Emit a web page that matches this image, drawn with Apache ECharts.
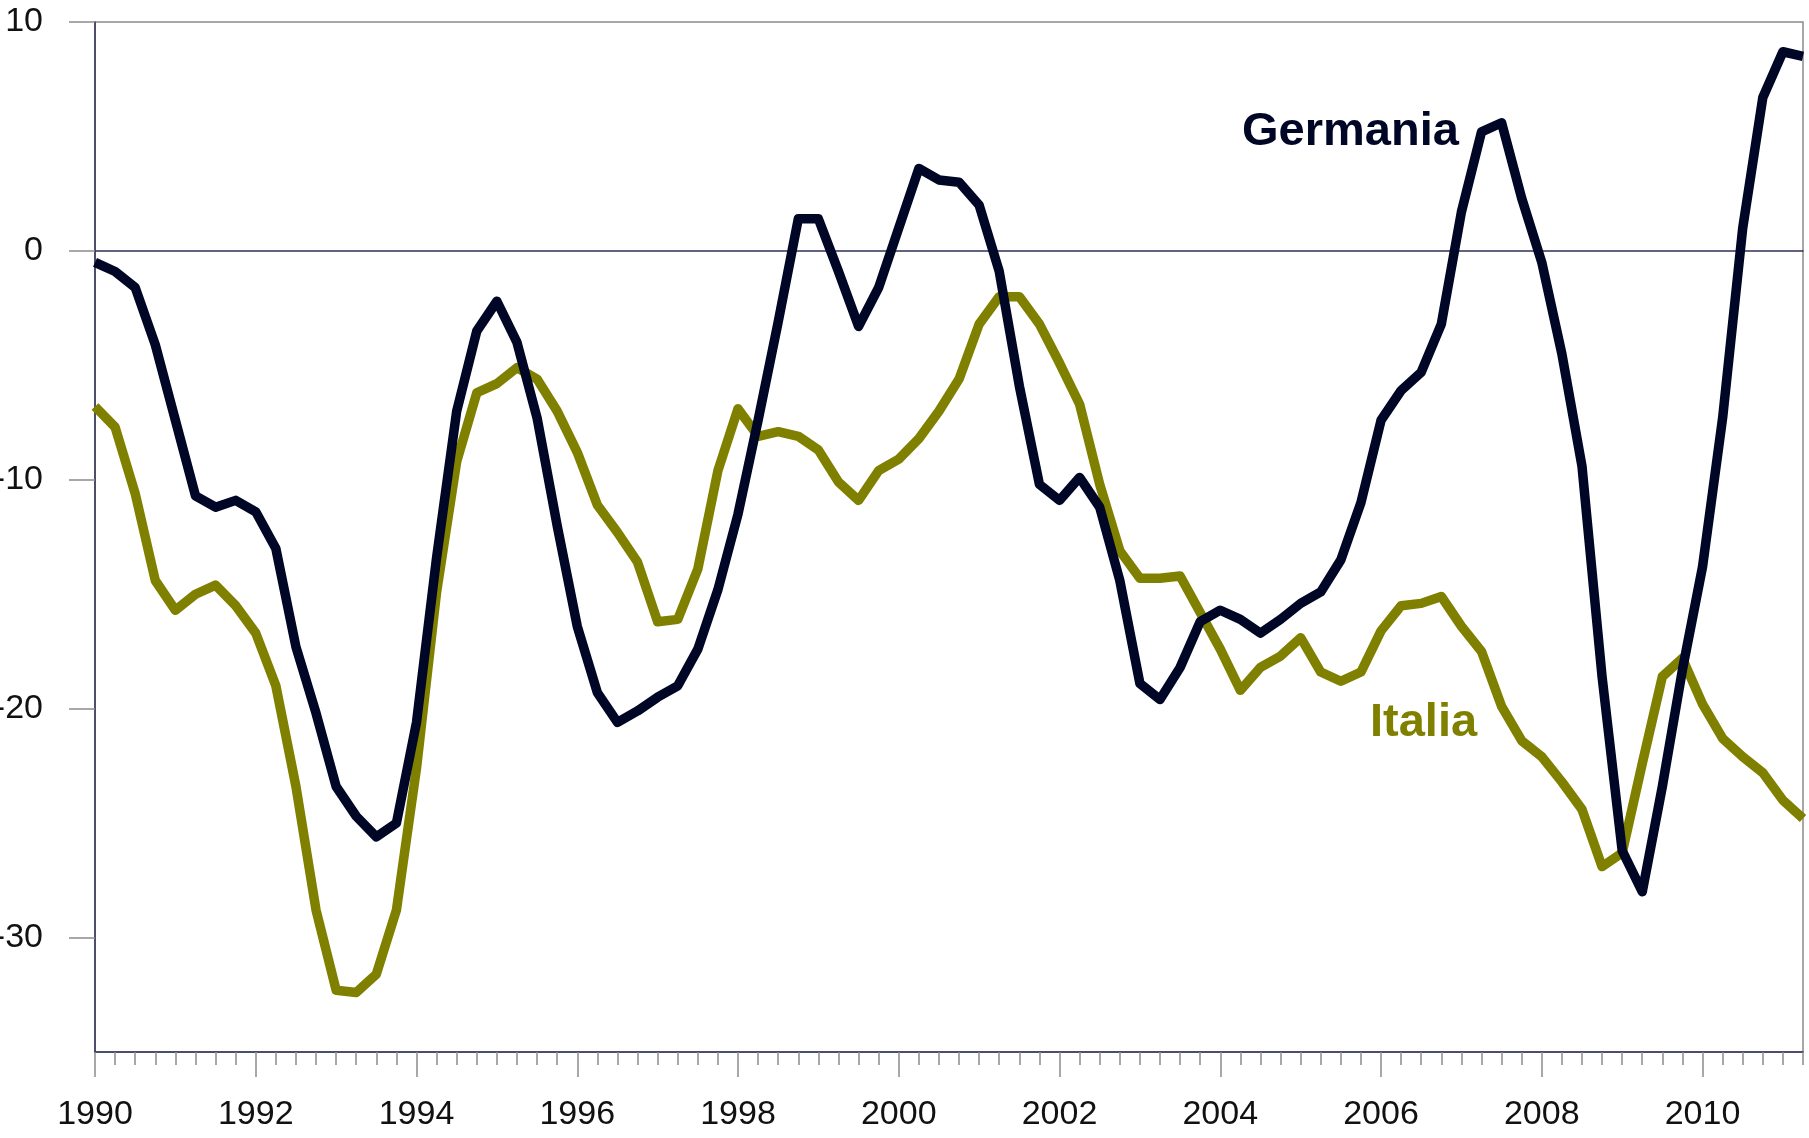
<!DOCTYPE html>
<html>
<head>
<meta charset="utf-8">
<title>Germania / Italia</title>
<script src="https://cdn.jsdelivr.net/npm/echarts@6/dist/echarts.min.js"></script>
<style>
  html, body { margin: 0; padding: 0; background: #fff; }
  #main { width: 1809px; height: 1138px; }
</style>
</head>
<body>
<div id="main"></div>
<script>
// quarterly series, 1990 Q1 - 2011 Q2
const years = [1990, 1991, 1992, 1993, 1994, 1995, 1996, 1997, 1998, 1999, 2000,
               2001, 2002, 2003, 2004, 2005, 2006, 2007, 2008, 2009, 2010, 2011];
const quarters = [];
years.forEach(y => { for (let q = 1; q <= 4; q++) quarters.push(y + ' T' + q); });
quarters.length = 86;

const germania = [
  -0.5, -0.9, -1.6, -4.1, -7.4, -10.7, -11.2, -10.9,
  -11.4, -13.0, -17.3, -20.2, -23.4, -24.7, -25.6, -25.0,
  -20.6, -13.4, -7.0, -3.5, -2.2, -4.0, -7.3, -12.0,
  -16.4, -19.3, -20.6, -20.1, -19.5, -19.0, -17.4, -14.8,
  -11.5, -7.4, -3.1, 1.4, 1.4, -0.9, -3.3, -1.6,
  1.0, 3.6, 3.1, 3.0, 2.0, -0.9, -5.9, -10.2,
  -10.9, -9.9, -11.2, -14.4, -18.9, -19.6, -18.2, -16.2,
  -15.7, -16.1, -16.7, -16.1, -15.4, -14.9, -13.5, -11.0,
  -7.4, -6.1, -5.3, -3.2, 1.7, 5.2, 5.6, 2.3,
  -0.5, -4.5, -9.4, -18.6, -26.2, -28.0, -23.4, -18.3,
  -13.8, -7.3, 1.0, 6.7, 8.7, 8.5
];
const italia = [
  -6.8, -7.7, -10.6, -14.4, -15.7, -15.0, -14.6, -15.5,
  -16.7, -19.0, -23.4, -28.8, -32.3, -32.4, -31.6, -28.8,
  -22.6, -14.9, -9.2, -6.2, -5.8, -5.1, -5.6, -7.0,
  -8.8, -11.1, -12.3, -13.6, -16.2, -16.1, -13.9, -9.6,
  -6.9, -8.1, -7.9, -8.1, -8.7, -10.1, -10.9, -9.6,
  -9.1, -8.2, -7.0, -5.6, -3.2, -2.0, -2.0, -3.2,
  -4.9, -6.7, -10.2, -13.1, -14.3, -14.3, -14.2, -15.8,
  -17.4, -19.2, -18.2, -17.7, -16.9, -18.4, -18.8, -18.4,
  -16.6, -15.5, -15.4, -15.1, -16.4, -17.5, -19.9, -21.4,
  -22.1, -23.2, -24.4, -26.9, -26.3, -22.4, -18.6, -17.8,
  -19.8, -21.3, -22.1, -22.8, -24.0, -24.8
];
const yTicks = [-30, -20, -10, 0, 10];

const navy = '#000626';
const olive = '#808000';
const axisColor = '#2e3158';
const tickColor = '#8c8c8c';
const font = 'Liberation Sans, Arial, sans-serif';

const chart = echarts.init(document.getElementById('main'));

chart.setOption({
  animation: false,
  backgroundColor: '#fff',
  grid: {
    left: 95, right: 6, top: 22, bottom: 86,
    outerBoundsMode: 'none',
    show: true, borderColor: '#8a8a8a', borderWidth: 1.5
  },
  xAxis: [
    {
      // quarter ticks + axis line
      type: 'category', data: quarters, boundaryGap: false, position: 'bottom',
      axisLine: {onZero: false, lineStyle: {color: axisColor, width: 1.5}},
      axisTick: {interval: 0, length: 13, lineStyle: {color: tickColor, width: 1.5}},
      axisLabel: {show: false},
      splitLine: {show: false}
    },
    {
      // every second year: long tick and label
      type: 'category', data: quarters, boundaryGap: false, position: 'bottom',
      axisLine: {show: false, onZero: false},
      axisTick: {interval: 7, length: 25, lineStyle: {color: tickColor, width: 1.5}},
      axisLabel: {
        interval: 7, margin: 46, fontSize: 34, color: '#111', fontFamily: font,
        formatter: v => v.slice(0, 4)
      },
      splitLine: {show: false}
    },
    {
      // zero line
      type: 'category', data: quarters, boundaryGap: false,
      axisLine: {onZero: true, lineStyle: {color: axisColor, width: 1.5}},
      axisTick: {show: false},
      axisLabel: {show: false},
      splitLine: {show: false}
    }
  ],
  yAxis: {
    type: 'value', min: -35, max: 10, position: 'left',
    axisLine: {show: true, onZero: false, lineStyle: {color: axisColor, width: 1.5}},
    axisTick: {show: true, length: 26, customValues: yTicks, lineStyle: {color: tickColor, width: 1.5}},
    axisLabel: {customValues: yTicks, margin: 52, fontSize: 34, color: '#111', fontFamily: font},
    splitLine: {show: false}
  },
  series: [
    {
      name: 'Italia', type: 'line', data: italia, xAxisIndex: 0,
      symbol: 'none', z: 3,
      lineStyle: {color: olive, width: 9.5, join: 'round'}
    },
    {
      name: 'Germania', type: 'line', data: germania, xAxisIndex: 0,
      symbol: 'none', z: 4,
      lineStyle: {color: navy, width: 9.5, join: 'round'}
    }
  ],
  graphic: [
    {
      type: 'text', left: 1242, top: 109,
      style: {text: 'Germania', fill: navy, font: 'bold 47px ' + font}
    },
    {
      type: 'text', left: 1370, top: 700,
      style: {text: 'Italia', fill: olive, font: 'bold 47px ' + font}
    }
  ]
});
</script>
</body>
</html>
